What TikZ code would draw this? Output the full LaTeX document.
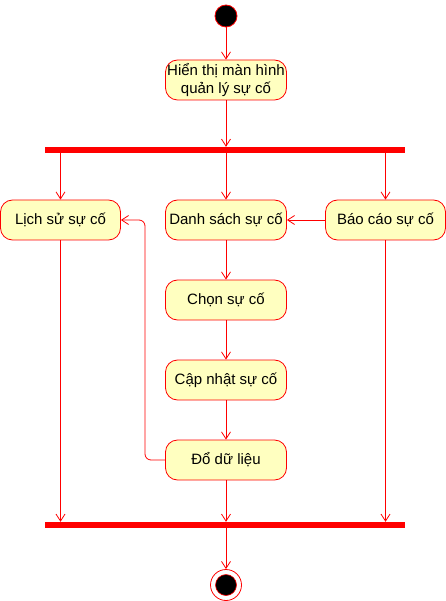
\documentclass[tikz,border=0pt]{standalone}
\usepackage{fontspec}
\setmainfont{Liberation Sans}
\usetikzlibrary{arrows.meta}
\definecolor{boxfill}{HTML}{FFFFC0}
\definecolor{uline}{HTML}{FF0000}
\begin{document}
\begin{tikzpicture}[x=1pt,y=-1pt,
  act/.style={draw=uline,fill=boxfill,line width=0.8pt,rounded corners=12pt,
    minimum width=121pt,minimum height=40pt,inner sep=0pt,align=center,
    font=\fontsize{15}{18}\selectfont,anchor=center},
  bar/.style={fill=uline,draw=none,minimum width=360pt,minimum height=6pt,inner sep=0pt},
  flow/.style={draw=uline,line width=0.8pt,-{Straight Barb[length=7pt,width=9pt]}}]
\useasboundingbox (0,0) rectangle (446,601);
\node[circle,fill=black,draw=uline,line width=0.8pt,minimum size=22pt,inner sep=0pt] (start) at (226,16) {};
\node[act] (show) at (226,80) {Hiển thị màn hình\\quản lý sự cố};
\node[bar] (fork) at (225,150) {};
\node[act,minimum width=120pt] (hist) at (60.5,220) {Lịch sử sự cố};
\node[act] (list) at (226,220) {Danh sách sự cố};
\node[act,minimum width=120pt] (report) at (385.5,220) {Báo cáo sự cố};
\node[act] (choose) at (226,300) {Chọn sự cố};
\node[act] (update) at (226,380) {Cập nhật sự cố};
\node[act] (load) at (226,460) {Đổ dữ liệu};
\node[bar] (join) at (225,525) {};
\node[circle,fill=white,draw=uline,line width=0.8pt,minimum size=31pt,inner sep=0pt] (endo) at (226,585) {};
\node[circle,fill=black,draw=uline,line width=0.6pt,minimum size=21pt,inner sep=0pt] (endi) at (226,585) {};

\draw[flow] (start) -- (show);
\draw[flow] (show) -- (show|-fork.north);
\draw[flow] (hist|-fork.south) -- (hist);
\draw[flow] (list|-fork.south) -- (list);
\draw[flow] (report|-fork.south) -- (report);
\draw[flow] (report) -- (list);
\draw[flow] (list) -- (choose);
\draw[flow] (choose) -- (update);
\draw[flow] (update) -- (load);
\draw[flow,rounded corners=6pt] (load.west) -- (145,460) -- (145,220) -- (hist.east);
\draw[flow] (hist) -- (hist|-join.north);
\draw[flow] (report) -- (report|-join.north);
\draw[flow] (load) -- (load|-join.north);
\draw[flow] (join.south-|endo) -- (endo);
\end{tikzpicture}
\end{document}
